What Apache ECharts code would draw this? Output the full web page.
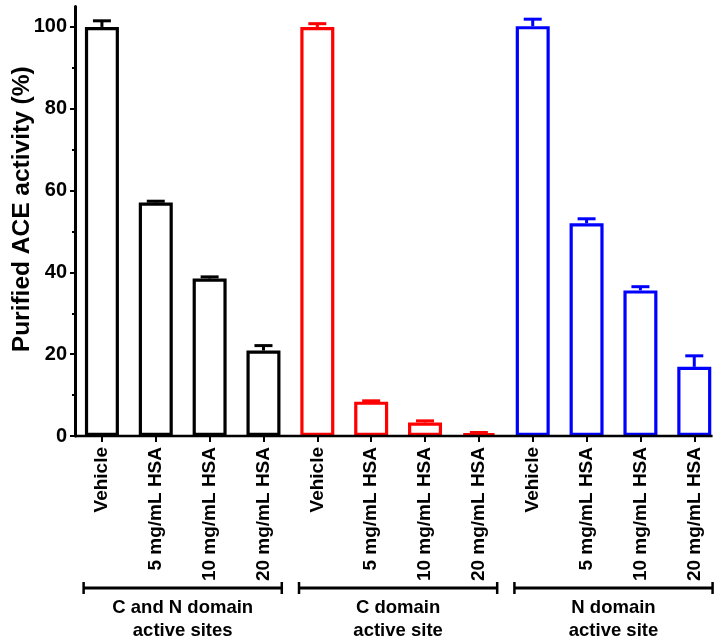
<!DOCTYPE html>
<html>
<head>
<meta charset="utf-8">
<script src="https://cdn.jsdelivr.net/npm/echarts@6/dist/echarts.min.js"></script>
<style>html,body{margin:0;padding:0;background:#fff;}#c{width:727px;height:642px;}</style>
</head>
<body>
<div id="c"></div>
<script>
const categories = ['Vehicle','5 mg/mL HSA','10 mg/mL HSA','20 mg/mL HSA',
                    'Vehicle','5 mg/mL HSA','10 mg/mL HSA','20 mg/mL HSA',
                    'Vehicle','5 mg/mL HSA','10 mg/mL HSA','20 mg/mL HSA'];
const groupNames = ['C and N domain\nactive sites', 'C domain\nactive site', 'N domain\nactive site'];
const groupStart = [0, 4, 8];
const groupEnd = [3, 7, 11];
const cnMeans = [100, 57.1, 38.5, 20.9];
const cnErr = [1.5, 0.3, 0.4, 1.2];
const cMeans = [100, 8.4, 3.3, 0.65];
const cErr = [0.8, 0.2, 0.4, 0.2];
const nMeans = [100.2, 52.0, 35.6, 16.9];
const nErr = [1.7, 1.1, 0.9, 2.7];
const yTicks = [0, 20, 40, 60, 80, 100];
const yMinorTicks = [10, 30, 50, 70, 90];

const colors = ['#000000', '#ff0000', '#0000ff'];
const FONT = '"Liberation Sans", Arial, sans-serif';
const allMeans = cnMeans.concat(cMeans, nMeans);
const allErr = cnErr.concat(cErr, nErr);
const groupOf = i => Math.floor(i / 4);

const chart = echarts.init(document.getElementById('c'), null, {renderer: 'canvas'});
chart.setOption({
  animation: false,
  backgroundColor: '#fff',
  grid: {left: 75, top: 6.5, width: 646.2, height: 429.5, containLabel: false, outerBoundsMode: 'none'},
  xAxis: {
    type: 'category',
    data: categories,
    axisLine: {show: false},
    axisTick: {show: true, alignWithLabel: true, length: 6, lineStyle: {color: '#000', width: 2}},
    axisLabel: {interval: 0, rotate: 90, margin: 11, color: '#000', fontFamily: FONT, fontWeight: 'bold', fontSize: 19}
  },
  yAxis: [{
    type: 'value', min: 0, max: 105,
    name: 'Purified ACE activity (%)',
    nameLocation: 'middle', nameGap: 40, nameMoveOverlap: false,
    nameTextStyle: {color: '#000', fontFamily: FONT, fontWeight: 'bold', fontSize: 24.5, padding: [0, 0, 0, 24]},
    axisLine: {show: true, lineStyle: {color: '#000', width: 3}},
    axisTick: {show: true, length: 5, customValues: yTicks, lineStyle: {color: '#000', width: 2}},
    axisLabel: {customValues: yTicks, margin: 8, color: '#000', fontFamily: FONT, fontWeight: 'bold', fontSize: 20},
    splitLine: {show: false}
  }, {
    type: 'value', min: 0, max: 105, position: 'left',
    axisLine: {show: false},
    axisTick: {show: true, length: 3, customValues: yMinorTicks, lineStyle: {color: '#000', width: 2}},
    axisLabel: {show: false},
    splitLine: {show: false}
  }],
  series: [{
    type: 'bar',
    barWidth: 34,
    data: allMeans.map((v, i) => ({
      value: v,
      itemStyle: {color: '#ffffff', borderColor: colors[groupOf(i)], borderWidth: 3.2}
    })),
    z: 3
  }, {
    type: 'custom',
    clip: false,
    z: 2,
    data: allMeans.map((v, i) => [i, v, allErr[i]]),
    renderItem: function (params, api) {
      const i = api.value(0);
      const top = api.coord([i, api.value(1) + api.value(2)]);
      const base = api.coord([i, api.value(1)]);
      const c = colors[groupOf(i)];
      const half = 9;
      return {
        type: 'group',
        children: [
          {type: 'line', shape: {x1: base[0], y1: base[1], x2: top[0], y2: top[1]}, style: {stroke: c, lineWidth: 3}},
          {type: 'line', shape: {x1: top[0] - half, y1: top[1], x2: top[0] + half, y2: top[1]}, style: {stroke: c, lineWidth: 3}}
        ]
      };
    }
  }, {
    type: 'custom',
    clip: false,
    z: 4,
    data: [[0, 11]],
    renderItem: function (params, api) {
      const a = api.coord([api.value(0), 0]);
      const b = api.coord([api.value(1), 0]);
      const bw = api.size([1, 0])[0];
      return {type: 'line', shape: {x1: a[0] - bw / 2, y1: a[1], x2: b[0] + bw * 0.34, y2: b[1]}, style: {stroke: '#000', lineWidth: 2.5}};
    }
  }, {
    type: 'custom',
    clip: false,
    z: 4,
    data: groupNames.map((g, k) => [groupStart[k], groupEnd[k], k]),
    renderItem: function (params, api) {
      const a = api.coord([api.value(0), 0]);
      const b = api.coord([api.value(1), 0]);
      const bw = api.size([1, 0])[0];
      const x1 = a[0] - bw * 0.34, x2 = b[0] + bw * 0.34;
      const y = a[1] + 152;
      const k = api.value(2);
      return {
        type: 'group',
        children: [
          {type: 'line', shape: {x1: x1, y1: y, x2: x2, y2: y}, style: {stroke: '#000', lineWidth: 3}},
          {type: 'line', shape: {x1: x1, y1: y - 6, x2: x1, y2: y + 6}, style: {stroke: '#000', lineWidth: 2.5}},
          {type: 'line', shape: {x1: x2, y1: y - 6, x2: x2, y2: y + 6}, style: {stroke: '#000', lineWidth: 2.5}},
          {type: 'text', style: {x: (x1 + x2) / 2, y: y + 8, text: groupNames[k], align: 'center', verticalAlign: 'top',
            fill: '#000', font: 'bold 18.5px ' + FONT, lineHeight: 23}}
        ]
      };
    }
  }]
});
</script>
</body>
</html>
